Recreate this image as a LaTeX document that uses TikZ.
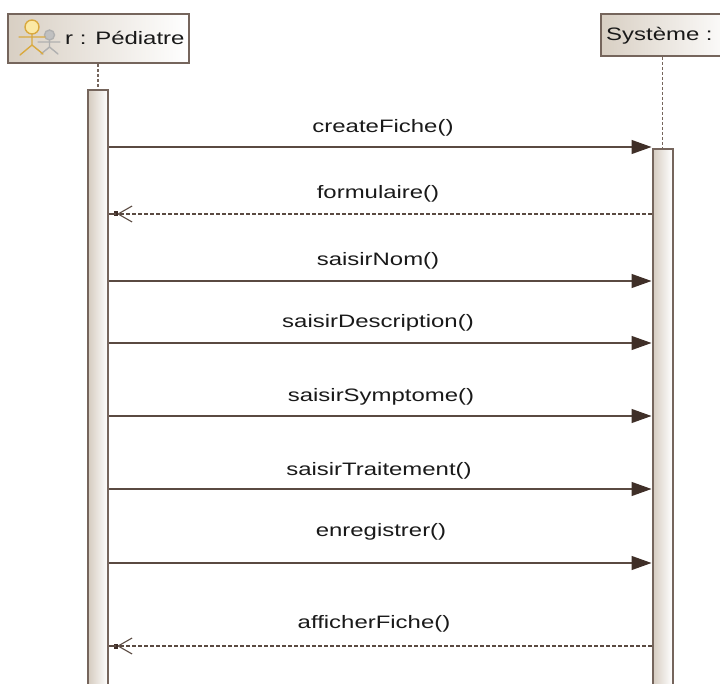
\documentclass[tikz,border=0pt]{standalone}
\usepackage{fontspec}
\setmainfont{Liberation Sans}
\newfontfamily\wide[FakeStretch=1.33]{Liberation Sans}
\usetikzlibrary{arrows.meta,calc}
\definecolor{edge}{HTML}{75655C}
\definecolor{wire}{HTML}{5A4A41}
\definecolor{tip}{HTML}{3F2F28}
\definecolor{boxdark}{HTML}{D8CFC3}
\definecolor{bardark}{HTML}{D5CBBF}
\definecolor{gold}{HTML}{D9A93F}
\definecolor{goldfill}{HTML}{FBE9A6}
\definecolor{greyfig}{HTML}{B0B0B0}
\tikzset{
  x=1pt,y=-1pt,
  lifebox/.style={draw=edge,line width=2pt,left color=boxdark,right color=white,shading angle=90,inner sep=0pt,anchor=north west},
  bar/.style={draw=edge,line width=2pt,left color=bardark,right color=white,minimum width=20pt,inner sep=0pt,anchor=north},
  lifeline/.style={draw=edge,line width=1.6pt,dash pattern=on 3pt off 2pt},
  call/.style={draw=wire,line width=1.3pt,-{Triangle[length=20pt,width=14pt,color=tip]}},
  reply/.style={draw=wire,line width=1.3pt,dash pattern=on 4pt off 2pt,-{Straight Barb[length=14pt,width=16pt,line width=1.1pt,color=wire,sep=-1pt] Square[length=4pt,width=5pt,color=tip,sep=5pt]}},
  stub/.style={draw=wire,line width=1.3pt},
  msg/.style={font=\wide\fontsize{18}{20}\selectfont,text=black!90,inner sep=0pt,anchor=base},
  acticon/.style={line width=1.4pt,line cap=round},
}
\begin{document}
\begin{tikzpicture}
\useasboundingbox (0,0) rectangle (720,684);
\node[lifebox,minimum width=181pt,minimum height=49pt] (ped) at (7,13) {};
\node[lifebox,minimum width=135pt,minimum height=42pt] (sys) at (600,13) {};
\node[msg,anchor=base west] (pedtxt) at (65,45) {r : Pédiatre};
\node[msg,anchor=base west] (systxt) at (606,41) {Système :};
\node[bar,minimum height=606pt] (barL) at (98,89) {};
\node[bar,minimum height=547pt] (barR) at (662.5,148) {};
\draw[lifeline] (ped.south -| barL.north) -- (barL.north);
\draw[lifeline] (sys.south -| barR.north) -- (barR.north);
% actor icons
\begin{scope}[acticon,draw=greyfig]
 \draw[fill=greyfig!80] (49.5,35) circle (5pt);
 \draw (49.5,40) -- (49.5,47) (38,42) -- (60,42) (49.5,47) -- (41,54) (49.5,47) -- (58,54);
\end{scope}
\begin{scope}[acticon,draw=gold]
 \draw[fill=goldfill] (32,27) circle (7pt);
 \draw (32,34) -- (32,45) (19,37) -- (45,37) (32,45) -- (20,55) (32,45) -- (43,54);
\end{scope}
% message anchors
\coordinate (m1) at (0,147);
\coordinate (m2) at (0,214);
\coordinate (m3) at (0,281);
\coordinate (m4) at (0,343);
\coordinate (m5) at (0,416);
\coordinate (m6) at (0,489);
\coordinate (m7) at (0,563);
\coordinate (m8) at (0,646);
\draw[call] (barL.east |- m1) -- (barR.west |- m1);
\draw[reply] (barR.west |- m2) -- (barL.east |- m2);
\draw[stub] (barL.east |- m2) -- ++(7,0);
\draw[call] (barL.east |- m3) -- (barR.west |- m3);
\draw[call] (barL.east |- m4) -- (barR.west |- m4);
\draw[call] (barL.east |- m5) -- (barR.west |- m5);
\draw[call] (barL.east |- m6) -- (barR.west |- m6);
\draw[call] (barL.east |- m7) -- (barR.west |- m7);
\draw[reply] (barR.west |- m8) -- (barL.east |- m8);
\draw[stub] (barL.east |- m8) -- ++(7,0);
\node[msg] (t1) at (383,133) {createFiche()};
\node[msg] (t2) at (378,199) {formulaire()};
\node[msg] (t3) at (378,266) {saisirNom()};
\node[msg] (t4) at (378,328) {saisirDescription()};
\node[msg] (t5) at (381,402) {saisirSymptome()};
\node[msg] (t6) at (379,475) {saisirTraitement()};
\node[msg] (t7) at (381,536) {enregistrer()};
\node[msg] (t8) at (374,628) {afficherFiche()};
\end{tikzpicture}
\end{document}
